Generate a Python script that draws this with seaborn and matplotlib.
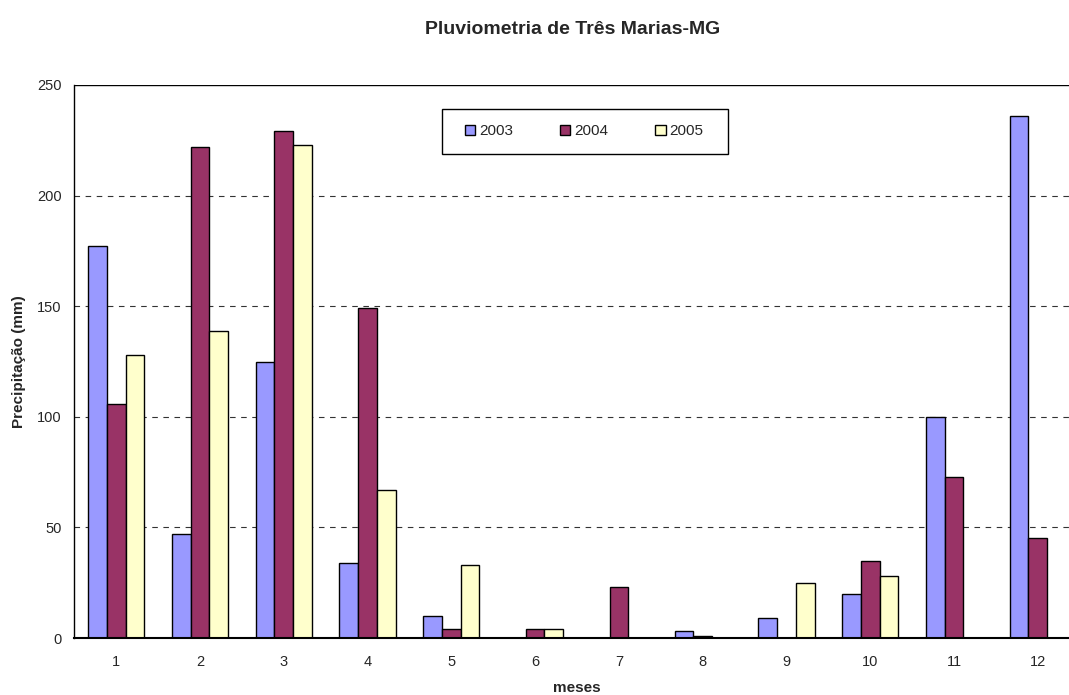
import numpy as np
import pandas as pd
import matplotlib
matplotlib.use("Agg")
import matplotlib.pyplot as plt
from matplotlib.patches import Rectangle
import seaborn as sns

# Monthly rainfall (mm) at Três Marias-MG
meses = [1, 2, 3, 4, 5, 6, 7, 8, 9, 10, 11, 12]
chuva_2003 = [177, 47, 125, 34, 10, 0, 0, 3, 9, 20, 100, 236]
chuva_2004 = [106, 222, 229, 149, 4, 4, 23, 1, 0, 35, 73, 45]
chuva_2005 = [128, 139, 223, 67, 33, 4, 0, 0, 25, 28, np.nan, np.nan]
anos = ["2003", "2004", "2005"]
cores = ["#9999FF", "#993366", "#FFFFCC"]
yticks = [0, 50, 100, 150, 200, 250]

df = pd.DataFrame({
    "mes": meses * 3,
    "valor": chuva_2003 + chuva_2004 + chuva_2005,
    "ano": [anos[0]] * 12 + [anos[1]] * 12 + [anos[2]] * 12,
})
df = df.dropna()

sns.set_style("white")
plt.rcParams["font.family"] = ["Liberation Sans", "DejaVu Sans"]

fig = plt.figure(figsize=(10.69, 6.95), dpi=100)
ax = fig.add_axes([0.0695, 0.082, 0.9405, 0.7957])

sns.barplot(data=df, x="mes", y="valor", hue="ano", hue_order=anos,
            order=meses, palette=cores, saturation=1, edgecolor="black",
            linewidth=1.0, width=0.67, gap=0, errorbar=None, ax=ax, zorder=3)

ax.set_xlim(-0.5, 11.5)
ax.set_ylim(0, 250)
ax.set_yticks(yticks)
ax.set_yticklabels([str(v) for v in yticks], fontsize=10.5)
ax.set_xticks(range(12))
ax.set_xticklabels([str(m) for m in meses], fontsize=10.5)
ax.set_xticks(np.arange(-0.5, 12, 1), minor=True)
ax.tick_params(axis="x", which="major", length=0, pad=12)
ax.tick_params(axis="x", which="minor", length=5, width=1, color="black", direction="out")
ax.tick_params(axis="y", which="major", length=5, width=1, color="black", direction="out", pad=4)

# Horizontal reference lines
for v in yticks[1:-1]:
    ax.axhline(v, color="#333333", lw=0.8, ls=(0, (5, 5)), zorder=1)
ax.axhline(250, color="black", lw=1.0, zorder=1)

for s in ["top", "right"]:
    ax.spines[s].set_visible(False)
ax.spines["left"].set_color("black")
ax.spines["left"].set_linewidth(1.0)
ax.spines["bottom"].set_color("black")
ax.spines["bottom"].set_linewidth(1.5)
ax.spines["bottom"].set_zorder(5)

ax.set_xlabel("meses", fontsize=11, fontweight="bold", labelpad=9)
ax.set_ylabel("Precipitação (mm)", fontsize=11, fontweight="bold", labelpad=8)

fig.text(0.536, 0.958, "Pluviometria de Três Marias-MG", ha="center", va="center",
         fontsize=14, fontweight="bold")

# Legend entries without frame, boxed by a separate rectangle
leg = ax.legend(loc="center", bbox_to_anchor=(0.507, 0.916), ncol=3, frameon=False,
                fontsize=11, handlelength=0.7, handleheight=0.7, handletextpad=0.25,
                columnspacing=3.05, borderpad=0.5, title=None)
for h in leg.legend_handles:
    h.set_edgecolor("black")
    h.set_linewidth(1.0)
ax.add_patch(Rectangle((0.3657, 0.8752), 0.284, 0.0814, transform=ax.transAxes,
                       facecolor="white", edgecolor="black", lw=1.0, zorder=4,
                       clip_on=False))
leg.set_zorder(6)

fig.savefig("out.png", dpi=100)
